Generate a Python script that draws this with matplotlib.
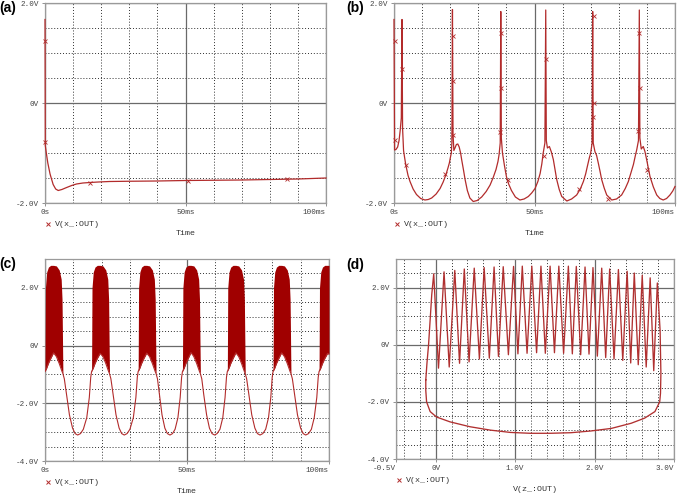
import matplotlib
matplotlib.use("Agg")
import matplotlib.pyplot as plt
from matplotlib.ticker import MultipleLocator

plt.rcParams['font.family'] = ['Liberation Mono', 'DejaVu Sans Mono']

RED = '#b22b2b'
DARK = '#a00000'

# ---- (a) single spike then relaxation: time (ms), V(x_:OUT) (V)
t_a = [0, 0.1, 0.3, 0.6, 1.0, 1.8, 2.9, 3.8, 4.7, 6.0, 7.7, 9.5, 11.2, 13.5,
       16, 19, 23, 30, 40, 50, 60, 70, 80, 90, 100]
v_a = [1.67, -0.85, -0.93, -1.05, -1.2, -1.42, -1.63, -1.72, -1.75, -1.73,
       -1.69, -1.65, -1.62, -1.60, -1.59, -1.58, -1.57, -1.565, -1.56, -1.55,
       -1.545, -1.54, -1.53, -1.52, -1.50]
mk_ta = [0, 0, 16, 50.8, 86]
mk_va = [1.25, -0.78, -1.59, -1.55, -1.52]

# ---- (b) periodic spiking
t_b = [0, 0.2, 0.7, 1.3, 1.8, 2.2, 2.6, 2.85, 3.05, 3.4, 3.8, 4.2, 5.0, 5.7,
       6.8, 8.0, 9.5, 11.0, 12.2, 13.4, 15.0, 16.4, 17.5, 18.5, 19.2, 19.7,
       20.1, 20.4, 20.6, 20.8, 21.0, 21.3, 21.7, 22.2, 22.7, 23.2, 23.7, 24.1,
       24.7, 25.3, 26.1, 27.0, 28.2, 29.6, 31.2, 32.8, 34.2, 35.3, 36.3, 37.0,
       37.4, 37.8, 38.0, 38.2, 38.6, 39.3, 40.0, 40.8, 41.8, 43.2, 44.8, 46.3,
       47.8, 49.0, 50.2, 51.2, 52.0, 52.6, 53.1, 53.7, 54.0, 54.2, 54.6, 55.3,
       56.0, 56.7, 57.3, 57.9, 58.8, 59.7, 61.5, 63.2, 65.0, 66.3, 67.4, 68.2,
       68.8, 69.5, 70.0, 70.5, 70.7, 70.9, 71.5, 72.1, 72.7, 73.3, 73.9, 74.8,
       75.7, 77.5, 79.2, 81.0, 82.3, 83.4, 84.3, 85.2, 85.9, 86.4, 87.0, 87.3,
       87.5, 88.0, 88.7, 89.3, 89.9, 90.5, 91.1, 92.3, 93.5, 94.6, 95.8, 97.0,
       98.2, 99.2, 100]
v_b = [1.67, -0.94, -0.93, -0.88, -0.75, -0.55, -0.3, 1.67, -0.5, -0.95,
       -1.1, -1.24, -1.45, -1.57, -1.72, -1.83, -1.91, -1.94, -1.93, -1.9,
       -1.82, -1.71, -1.58, -1.43, -1.3, -1.2, -1.08, -1.0, -0.8, 1.87, -0.6,
       -0.95, -0.9, -0.83, -0.82, -0.88, -1.0, -1.14, -1.33, -1.53, -1.75,
       -1.9, -1.97, -1.95, -1.88, -1.77, -1.64, -1.49, -1.33, -1.17, -1.03,
       -0.8, 1.83, -0.7, -1.0, -1.25, -1.47, -1.62, -1.75, -1.88, -1.94, -1.92,
       -1.87, -1.8, -1.71, -1.57, -1.41, -1.22, -1.0, -0.8, 1.86, -0.75, -0.9,
       -0.87, -0.98, -1.13, -1.33, -1.53, -1.73, -1.87, -1.96, -1.92, -1.84,
       -1.72, -1.57, -1.42, -1.27, -1.1, -1.0, -0.8, 1.83, -0.8, -0.97, -1.05,
       -1.2, -1.36, -1.53, -1.7, -1.84, -1.94, -1.92, -1.84, -1.71, -1.57,
       -1.4, -1.23, -1.05, -0.93, -0.75, 1.86, -0.7, -0.92, -0.87, -0.97,
       -1.13, -1.3, -1.47, -1.68, -1.84, -1.91, -1.94, -1.91, -1.84, -1.76,
       -1.67]
mk_tb = [0.2, 0.2, 3.0, 4.4, 18.3, 20.9, 20.9, 20.9, 38.1, 38.1, 37.6, 40.6,
         53.3, 54.2, 66.0, 71.0, 71.0, 70.8, 76.3, 87.3, 87.6, 87.0, 90.2]
mk_vb = [1.25, -0.73, 0.69, -1.23, -1.42, 1.35, 0.45, -0.63, 1.41, 0.3,
         -0.57, -1.53, -1.05, 0.88, -1.72, 1.75, 0.0, -0.27, -1.92, 1.41, 0.3,
         -0.55, -1.33]

# ---- (c) bursting: time (ms), lower and upper envelope of the trace (V)
t_c = [0, 0.15, 0.6, 1.2, 2.0, 3.0, 4.0, 5.0, 5.7, 6.0, 6.3,
       6.8, 7.6, 8.6, 9.7, 10.6, 11.5, 12.5, 13.5, 14.7, 15.6, 16.1,
       16.4, 16.55, 17.0, 17.6, 18.4, 19.4, 20.4, 21.4, 22.1, 22.4, 22.7,
       23.2, 24.0, 25.0, 26.1, 27.0, 27.9, 28.9, 29.9, 31.1, 32.0, 32.5,
       32.8, 32.95, 33.4, 34.0, 34.8, 35.8, 36.8, 37.8, 38.5, 38.8, 39.1,
       39.6, 40.3, 41.2, 42.2, 43.1, 44.0, 44.9, 45.8, 46.8, 47.6, 48.1,
       48.4, 48.55, 49.0, 49.6, 50.4, 51.4, 52.4, 53.4, 54.1, 54.4, 54.7,
       55.2, 55.9, 56.9, 57.9, 58.8, 59.7, 60.6, 61.6, 62.6, 63.4, 63.9,
       64.2, 64.35, 64.8, 65.4, 66.2, 67.2, 68.2, 69.2, 69.9, 70.2, 70.5,
       71.0, 71.8, 72.8, 73.9, 74.8, 75.7, 76.7, 77.7, 78.7, 79.5, 80.0,
       80.3, 80.45, 80.9, 81.5, 82.3, 83.3, 84.3, 85.3, 86.0, 86.3, 86.6,
       87.1, 87.9, 88.9, 90.0, 90.9, 91.8, 92.8, 93.8, 94.8, 95.7, 96.2,
       96.5, 96.65, 97.1, 97.7, 98.5, 99.5, 100.0]
lo_c = [-0.9, -0.87, -0.78, -0.62, -0.45, -0.25, -0.38, -0.62, -0.82, -0.9, -0.97,
        -1.15, -1.7, -2.4, -2.86, -3.05, -3.1, -3.05, -2.9, -2.5, -1.8, -1.1,
        -0.9, -0.87, -0.78, -0.62, -0.45, -0.27, -0.38, -0.62, -0.82, -0.9, -0.97,
        -1.15, -1.7, -2.4, -2.86, -3.05, -3.1, -3.05, -2.9, -2.5, -1.8, -1.1,
        -0.9, -0.87, -0.78, -0.62, -0.45, -0.26, -0.38, -0.62, -0.82, -0.9, -0.97,
        -1.15, -1.7, -2.4, -2.86, -3.05, -3.1, -3.05, -2.9, -2.5, -1.8, -1.1,
        -0.9, -0.87, -0.78, -0.62, -0.45, -0.24, -0.38, -0.62, -0.82, -0.9, -0.97,
        -1.15, -1.7, -2.4, -2.86, -3.05, -3.1, -3.05, -2.9, -2.5, -1.8, -1.1,
        -0.9, -0.87, -0.78, -0.62, -0.45, -0.25, -0.38, -0.62, -0.82, -0.9, -0.97,
        -1.15, -1.7, -2.4, -2.86, -3.05, -3.1, -3.05, -2.9, -2.5, -1.8, -1.1,
        -0.9, -0.87, -0.78, -0.62, -0.45, -0.25, -0.38, -0.62, -0.82, -0.9, -0.97,
        -1.15, -1.7, -2.4, -2.86, -3.05, -3.1, -3.05, -2.9, -2.5, -1.8, -1.1,
        -0.9, -0.87, -0.78, -0.62, -0.45, -0.27, -0.3]
hi_c = [-0.9, 2.0, 2.55, 2.72, 2.78, 2.78, 2.76, 2.62, 2.3, 1.6, -0.97,
        -1.15, -1.7, -2.4, -2.86, -3.05, -3.1, -3.05, -2.9, -2.5, -1.8, -1.1,
        -0.9, 2.0, 2.55, 2.72, 2.78, 2.78, 2.76, 2.62, 2.3, 1.6, -0.97,
        -1.15, -1.7, -2.4, -2.86, -3.05, -3.1, -3.05, -2.9, -2.5, -1.8, -1.1,
        -0.9, 2.0, 2.55, 2.72, 2.78, 2.78, 2.76, 2.62, 2.3, 1.6, -0.97,
        -1.15, -1.7, -2.4, -2.86, -3.05, -3.1, -3.05, -2.9, -2.5, -1.8, -1.1,
        -0.9, 2.0, 2.55, 2.72, 2.78, 2.78, 2.76, 2.62, 2.3, 1.6, -0.97,
        -1.15, -1.7, -2.4, -2.86, -3.05, -3.1, -3.05, -2.9, -2.5, -1.8, -1.1,
        -0.9, 2.0, 2.55, 2.72, 2.78, 2.78, 2.76, 2.62, 2.3, 1.6, -0.97,
        -1.15, -1.7, -2.4, -2.86, -3.05, -3.1, -3.05, -2.9, -2.5, -1.8, -1.1,
        -0.9, 2.0, 2.55, 2.72, 2.78, 2.78, 2.76, 2.62, 2.3, 1.6, -0.97,
        -1.15, -1.7, -2.4, -2.86, -3.05, -3.1, -3.05, -2.9, -2.5, -1.8, -1.1,
        -0.9, 2.0, 2.55, 2.72, 2.78, 2.78, 2.78]

# ---- (d) phase portrait: V(z_:OUT) vs V(x_:OUT)
z_d = [-0.125, -0.11, -0.09, -0.05, -0.025,
       0.035, 0.105, 0.17, 0.24, 0.30, 0.36, 0.42, 0.485, 0.55, 0.61, 0.675,
       0.735, 0.79, 0.85, 0.915, 0.98, 1.035, 1.09, 1.15, 1.21, 1.27, 1.325,
       1.38, 1.44, 1.495, 1.55, 1.61, 1.67, 1.72, 1.77, 1.825, 1.88, 1.93,
       1.98, 2.035, 2.09, 2.14, 2.19, 2.245, 2.30, 2.355, 2.41, 2.455, 2.50,
       2.55, 2.60, 2.65, 2.70, 2.745, 2.79,
       2.825, 2.835, 2.83, 2.82, 2.76, 2.63, 2.46, 2.21, 1.95, 1.70, 1.44,
       1.19, 0.94, 0.69, 0.43, 0.18, 0.01, -0.07, -0.115, -0.125, -0.125]
x_d = [-1.23, -0.64, 0.0, 1.75, 2.48,
       -0.82, 2.55, -0.78, 2.6, -0.65, 2.65, -0.6, 2.68, -0.5, 2.7, -0.47,
       2.72, -0.41, 2.73, -0.35, 2.74, -0.32, 2.75, -0.3, 2.75, -0.28, 2.75,
       -0.3, 2.75, -0.28, 2.75, -0.3, 2.75, -0.32, 2.74, -0.35, 2.72, -0.33,
       2.7, -0.4, 2.68, -0.45, 2.65, -0.5, 2.63, -0.55, 2.57, -0.64, 2.51,
       -0.7, 2.43, -0.78, 2.34, -0.91, 2.16,
       0.5, -1.0, -1.7, -2.0, -2.34, -2.57, -2.75, -2.93, -3.02, -3.08, -3.1,
       -3.1, -3.07, -2.99, -2.87, -2.70, -2.53, -2.34, -2.0, -1.6, -1.23]

W, H = 677, 495
fig = plt.figure(figsize=(W / 100, H / 100), dpi=100)


def box(l, t, r, b):
    return [l / W, 1 - b / H, (r - l) / W, (b - t) / H]


def style(ax, xlim, xmaj, xlab, xmin, ylim, ymaj, ylab, ymin, xname):
    ax.set_xlim(xlim)
    ax.set_ylim(ylim)
    ax.set_xticks(xmaj)
    ax.set_xticklabels(xlab)
    ax.set_yticks(ymaj)
    ax.set_yticklabels(ylab)
    ax.xaxis.set_minor_locator(MultipleLocator(xmin))
    ax.yaxis.set_minor_locator(MultipleLocator(ymin))
    ax.set_axisbelow(True)
    ax.grid(which='major', color='#6a6a6a', lw=0.9, ls='-')
    ax.grid(which='minor', color='#303030', lw=0.7, ls=(0, (1, 2)))
    ax.tick_params(which='minor', length=0)
    ax.tick_params(which='major', length=2.5, width=0.6, color='#808080',
                   labelsize=5.5, labelcolor='#444444', pad=2)
    for s in ax.spines.values():
        s.set_color('#9a9a9a')
        s.set_linewidth(0.9)
    ax.get_xticklabels()[-1].set_ha('right')
    ax.plot([0.012], [-0.105], marker='x', ms=2.5, mew=0.7, color=RED,
            transform=ax.transAxes, clip_on=False)
    ax.text(0.036, -0.105, 'V(x_:OUT)', transform=ax.transAxes, fontsize=6,
            color='#333333', va='center', ha='left')
    ax.text(0.5, -0.152, xname, transform=ax.transAxes, fontsize=6,
            color='#333333', va='center', ha='center')


# (a)
ax = fig.add_axes(box(45, 3, 326, 203))
ax.plot(t_a, v_a, color=RED, lw=0.9, zorder=3, clip_on=False)
ax.plot(mk_ta, mk_va, 'x', color=RED, ms=2.5, mew=0.6, zorder=3, clip_on=False)
style(ax, (0, 100), [0, 50, 100], ['0s', '50ms', '100ms'], 10,
      (-2, 2), [-2, 0, 2], ['-2.0V', '0V', '2.0V'], 0.5, 'Time')

# (b)
ax = fig.add_axes(box(394, 3, 675, 203))
ax.plot(t_b, v_b, color=RED, lw=0.9, zorder=3, clip_on=False)
ax.plot(mk_tb, mk_vb, 'x', color=RED, ms=2.5, mew=0.6, zorder=3, clip_on=False)
style(ax, (0, 100), [0, 50, 100], ['0s', '50ms', '100ms'], 10,
      (-2, 2), [-2, 0, 2], ['-2.0V', '0V', '2.0V'], 0.5, 'Time')

# (c)
ax = fig.add_axes(box(45, 259, 329, 461))
ax.fill_between(t_c, lo_c, hi_c, color=DARK, lw=0, zorder=3)
ax.plot(t_c, lo_c, color=RED, lw=0.8, zorder=3)
style(ax, (0, 100), [0, 50, 100], ['0s', '50ms', '100ms'], 10,
      (-4, 3), [-4, -2, 0, 2], ['-4.0V', '-2.0V', '0V', '2.0V'], 0.5, 'Time')

# (d)
ax = fig.add_axes(box(396, 259, 674, 459))
ax.plot(z_d, x_d, color='#b03030', lw=0.95, zorder=3)
style(ax, (-0.5, 3), [-0.5, 0, 1, 2, 3], ['-0.5V', '0V', '1.0V', '2.0V', '3.0V'], 0.2,
      (-4, 3), [-4, -2, 0, 2], ['-4.0V', '-2.0V', '0V', '2.0V'], 0.5, 'V(z_:OUT)')
ax.get_xticklabels()[0].set_ha('right')

for lab, x, y in [('(a)', 8, 8), ('(b)', 355, 8), ('(c)', 8, 264), ('(d)', 355, 265)]:
    fig.text(x / W, 1 - y / H, lab, fontsize=10, fontweight='bold',
             family='Liberation Sans', ha='center', va='center')

fig.savefig('out.png', dpi=100)
